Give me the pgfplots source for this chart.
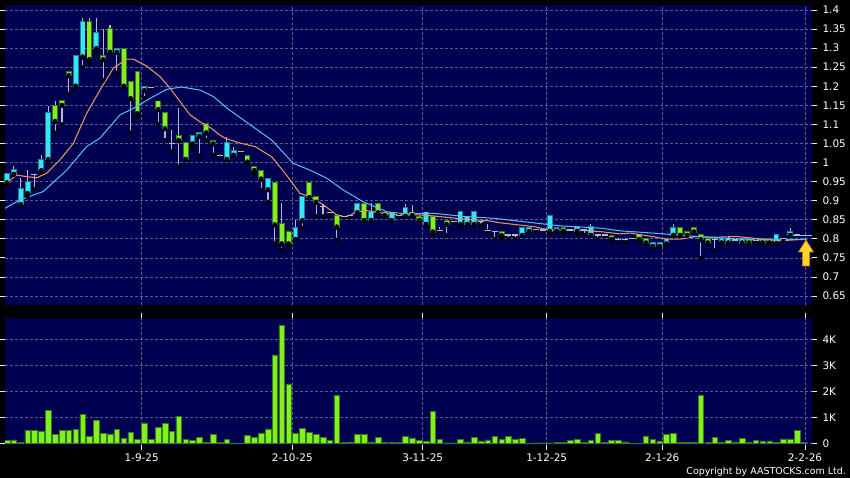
\documentclass[border=0pt]{standalone}
\usepackage{pgfplots}
\pgfplotsset{compat=1.18}
\usepackage{pgfplotstable}
\usepackage{fontspec}
\setmainfont{DejaVu Sans}
\definecolor{navy}{RGB}{0,0,80}
\definecolor{gridc}{RGB}{85,95,145}
\definecolor{upc}{RGB}{50,232,245}
\definecolor{upb}{RGB}{35,125,150}
\definecolor{dnc}{RGB}{128,240,30}
\definecolor{dnb}{RGB}{55,120,25}
\definecolor{wick}{RGB}{185,185,195}
\definecolor{maS}{RGB}{235,150,95}
\definecolor{maL}{RGB}{85,185,245}

\pgfplotstableread{
i o h l c
0 0.948 0.972 0.940 0.969
1 0.970 0.992 0.970 0.980
2 0.891 0.959 0.889 0.930
3 0.920 0.980 0.911 0.948
5 0.980 1.020 0.975 1.007
6 1.009 1.149 1.000 1.129
10 1.201 1.278 1.201 1.278
11 1.278 1.378 1.250 1.369
13 1.300 1.378 1.288 1.339
16 1.290 1.298 1.235 1.298
20 1.190 1.199 1.169 1.199
27 1.050 1.070 1.038 1.070
28 1.070 1.078 1.018 1.078
32 1.009 1.066 1.009 1.050
33 1.020 1.042 1.020 1.030
38 0.930 0.958 0.897 0.958
42 0.799 0.849 0.799 0.829
43 0.849 0.909 0.829 0.909
51 0.869 0.895 0.869 0.891
53 0.849 0.895 0.849 0.869
56 0.849 0.869 0.849 0.869
58 0.860 0.890 0.860 0.880
61 0.839 0.869 0.839 0.869
66 0.839 0.870 0.835 0.870
67 0.839 0.858 0.839 0.858
68 0.839 0.870 0.835 0.870
75 0.810 0.829 0.810 0.829
76 0.820 0.829 0.820 0.829
79 0.821 0.860 0.810 0.860
80 0.821 0.829 0.821 0.829
83 0.821 0.832 0.810 0.832
85 0.810 0.838 0.810 0.832
94 0.781 0.788 0.781 0.788
95 0.781 0.788 0.781 0.788
96 0.788 0.799 0.785 0.799
97 0.810 0.840 0.810 0.829
104 0.790 0.799 0.790 0.799
105 0.790 0.808 0.790 0.799
107 0.790 0.799 0.790 0.799
112 0.788 0.810 0.788 0.810
114 0.810 0.829 0.810 0.819
}\up

\pgfplotstableread{
i o h l c
7 1.149 1.162 1.078 1.109
8 1.161 1.161 1.100 1.151
9 1.238 1.238 1.180 1.229
12 1.369 1.378 1.260 1.271
14 1.278 1.350 1.216 1.271
15 1.349 1.361 1.290 1.290
17 1.298 1.298 1.201 1.201
18 1.210 1.210 1.078 1.169
19 1.238 1.238 1.119 1.129
22 1.160 1.160 1.101 1.140
23 1.129 1.129 1.059 1.090
25 1.070 1.142 0.989 1.059
26 1.050 1.050 1.009 1.009
29 1.100 1.100 1.059 1.079
30 1.057 1.057 1.020 1.050
35 1.017 1.017 1.002 1.002
36 0.989 0.989 0.970 0.980
37 0.979 0.979 0.928 0.958
39 0.947 0.947 0.788 0.838
40 0.838 0.893 0.771 0.788
41 0.819 0.819 0.775 0.788
44 0.947 0.947 0.909 0.909
45 0.909 0.909 0.859 0.897
48 0.860 0.860 0.797 0.832
52 0.891 0.891 0.849 0.849
54 0.891 0.895 0.869 0.869
55 0.869 0.869 0.862 0.862
59 0.869 0.889 0.862 0.862
60 0.858 0.858 0.849 0.849
62 0.858 0.858 0.810 0.819
64 0.848 0.848 0.810 0.839
72 0.819 0.819 0.799 0.810
81 0.829 0.829 0.810 0.821
88 0.807 0.807 0.799 0.799
92 0.810 0.810 0.799 0.799
93 0.799 0.799 0.790 0.790
98 0.829 0.829 0.810 0.810
99 0.819 0.819 0.810 0.810
100 0.829 0.829 0.819 0.819
101 0.810 0.810 0.749 0.799
102 0.799 0.799 0.790 0.790
108 0.799 0.799 0.790 0.790
110 0.799 0.799 0.790 0.790
111 0.799 0.799 0.790 0.790
}\dn

\pgfplotstableread{
i v h l
4 0.969 0.969 0.930
21 1.197 1.199 1.195
24 1.050 1.085 1.029
31 1.019 1.022 1.016
34 1.030 1.033 1.028
46 0.885 0.891 0.859
47 0.870 0.872 0.868
49 0.858 0.860 0.856
50 0.862 0.866 0.858
57 0.862 0.864 0.860
63 0.821 0.830 0.819
65 0.845 0.847 0.843
69 0.845 0.847 0.835
70 0.821 0.839 0.819
71 0.819 0.821 0.799
73 0.810 0.812 0.799
74 0.810 0.812 0.799
77 0.825 0.827 0.823
78 0.823 0.825 0.821
82 0.823 0.825 0.821
84 0.823 0.825 0.810
86 0.810 0.812 0.799
87 0.810 0.812 0.808
89 0.799 0.801 0.790
90 0.799 0.801 0.790
91 0.800 0.802 0.798
103 0.799 0.801 0.769
106 0.797 0.799 0.795
109 0.795 0.797 0.793
113 0.800 0.802 0.798
115 0.810 0.812 0.808
}\dj

\pgfplotstableread{
i v
0 0.10
1 0.13
2 0.04
3 0.51
4 0.51
5 0.47
6 1.28
7 0.33
8 0.49
9 0.51
10 0.54
11 1.12
12 0.26
13 0.90
14 0.38
15 0.36
16 0.54
17 0.19
18 0.41
19 0.15
20 0.79
21 0.15
22 0.62
23 0.77
24 0.47
25 1.05
26 0.15
27 0.10
28 0.24
29 0.04
30 0.33
31 0.05
32 0.14
33 0.01
34 0.01
35 0.31
36 0.22
37 0.40
38 0.56
39 3.40
40 4.54
41 2.29
42 0.37
43 0.58
44 0.42
45 0.35
46 0.23
47 0.10
48 1.83
49 0.04
50 0.06
51 0.33
52 0.33
53 0.06
54 0.24
55 0.05
56 0.04
57 0.04
58 0.27
59 0.21
60 0.12
61 0.08
62 1.22
63 0.15
64 0.02
65 0.02
66 0.15
67 0.06
68 0.23
69 0.09
70 0.13
71 0.27
72 0.15
73 0.26
74 0.15
75 0.19
76 0.01
77 0.02
78 0.02
79 0.02
80 0.03
81 0.04
82 0.10
83 0.15
84 0.04
85 0.10
86 0.38
87 0.04
88 0.12
89 0.12
90 0.06
91 0.01
92 0.01
93 0.29
94 0.15
95 0.09
96 0.35
97 0.38
98 0.04
99 0.04
100 0.05
101 1.86
102 0.05
103 0.22
104 0.05
105 0.12
106 0.06
107 0.18
108 0.03
109 0.10
110 0.09
111 0.09
112 0.04
113 0.17
114 0.17
115 0.49
116 0.03
}\vol

\pgfplotsset{
  common/.style={
    scale only axis, anchor=south west, width=807bp,
    xmin=-0.29, xmax=117.18,
    axis background/.style={fill=navy},
    axis line style={draw=none},
    xtick={19.61,41.53,60.51,78.56,95.39,116.16},
    xmajorgrids, ymajorgrids,
    grid style={gridc, dash pattern=on 2.5bp off 2.5bp, line width=0.7bp},
    yticklabel pos=right,
    tick align=outside, major tick length=5bp,
    tick style={white!85!gray, line width=0.8bp},
    ticklabel style={text=white, font=\fontsize{10.5}{12}\selectfont},
    yticklabel style={anchor=west, xshift=2bp},
  },
  wicks/.style={only marks, mark=none, forget plot,
    error bars/.cd, y dir=plus, y explicit, error mark=none,
    error bar style={draw=wick, line width=1.1bp, solid}},
  body/.style 2 args={only marks, mark=none, forget plot,
    error bars/.cd, y dir=plus, y explicit, error mark=none,
    error bar style={draw=#1, line width=#2, solid, line cap=butt}},
}

\begin{document}
\begin{tikzpicture}
\useasboundingbox (0bp,0bp) rectangle (850bp,478bp);
\fill[black] (0bp,0bp) rectangle (850bp,478bp);

\begin{axis}[common, at={(5bp,173bp)}, height=300bp,
  ymin=0.6265, ymax=1.413,
  ytick={0.65,0.7,0.75,0.8,0.85,0.9,0.95,1,1.05,1.1,1.15,1.2,1.25,1.3,1.35,1.4},
  yticklabels={0.65,0.7,0.75,0.8,0.85,0.9,0.95,1,1.05,1.1,1.15,1.2,1.25,1.3,1.35,1.4},
  xticklabels={}, xtick style={draw=none}, clip=false]
% wicks
\addplot[wicks] table[x=i, y=l, y error expr=\thisrow{h}-\thisrow{l}] {\up};
\addplot[wicks] table[x=i, y=l, y error expr=\thisrow{h}-\thisrow{l}] {\dn};
\addplot[wicks] table[x=i, y=l, y error expr=\thisrow{h}-\thisrow{l}] {\dj};
% up bodies
\addplot[body={upb}{5.8bp}] table[x=i, y expr=\thisrow{o}-0.0026, y error expr=\thisrow{c}-\thisrow{o}+0.0052] {\up};
\addplot[body={upc}{3.9bp}] table[x=i, y=o, y error expr=\thisrow{c}-\thisrow{o}] {\up};
% down bodies
\addplot[body={dnb}{5.8bp}] table[x=i, y expr=\thisrow{c}-0.0026, y error expr=\thisrow{o}-\thisrow{c}+0.0052] {\dn};
\addplot[body={dnc}{3.9bp}] table[x=i, y=c, y error expr=\thisrow{o}-\thisrow{c}] {\dn};
% doji
\addplot[only marks, mark=-, mark size=3bp, mark options={draw=wick, line width=1.1bp}] table[x=i, y=v] {\dj};
% moving averages
\addplot[maS, line width=1.05bp] coordinates {
(-0.29,0.944)(1.41,0.967)(2.87,0.963)(4.32,0.960)(5.78,0.972)(7.71,1.007)(9.65,1.050)(11.6,1.129)(13.54,1.190)(15.47,1.247)(17.42,1.271)(18.38,1.271)(20.33,1.253)(22.27,1.225)(23.73,1.195)(25.18,1.160)(26.64,1.125)(28.09,1.107)(29.55,1.092)(31.0,1.072)(31.73,1.064)(33.67,1.052)(36.1,1.042)(38.53,1.015)(40.47,0.972)(41.92,0.937)(42.65,0.919)(44.1,0.911)(46.04,0.889)(47.99,0.863)(49.45,0.858)(50.9,0.871)(52.36,0.874)(54.77,0.867)(57.2,0.863)(59.64,0.863)(62.05,0.860)(66.91,0.851)(69.83,0.848)(71.76,0.842)(76.61,0.832)(79.04,0.823)(82.93,0.823)(86.32,0.819)(89.23,0.813)(90.68,0.815)(93.6,0.807)(96.03,0.799)(97.96,0.799)(100.39,0.806)(102.81,0.804)(106.21,0.806)(110.09,0.799)(112.52,0.795)(116.4,0.799)};
\addplot[maL, line width=1.05bp] coordinates {
(-0.29,0.880)(1.89,0.902)(5.28,0.924)(8.69,0.980)(11.6,1.042)(13.54,1.064)(16.45,1.125)(18.38,1.142)(20.82,1.168)(23.25,1.192)(25.43,1.198)(28.09,1.190)(30.03,1.173)(32.21,1.140)(36.1,1.090)(38.53,1.059)(41.67,0.998)(44.1,0.980)(46.54,0.959)(48.95,0.928)(51.86,0.897)(55.27,0.871)(58.18,0.865)(62.05,0.867)(66.91,0.858)(70.79,0.854)(76.61,0.842)(80.5,0.834)(86.32,0.828)(89.23,0.821)(95.53,0.813)(100.39,0.806)(105.24,0.801)(110.09,0.797)(116.4,0.799)};
\draw[wick, line width=0.9bp] (axis cs:114.4,0.81) -- (axis cs:117.18,0.81);
\end{axis}

\begin{axis}[common, at={(5bp,33bp)}, height=127bp,
  ymin=-0.065, ymax=4.82,
  ytick={0,1,2,3,4}, yticklabels={0,1K,2K,3K,4K},
  xticklabels={1-9-25,2-10-25,3-11-25,1-12-25,2-1-26,2-2-26}]
\addplot[ybar, bar width=5.6bp, fill=dnc, draw=dnb, line width=0.5bp] table[x=i, y=v] {\vol};
\end{axis}

% current-price arrow
\fill[draw={rgb,255:red,190;green,130;blue,0}, line width=0.6bp, fill={rgb,255:red,255;green,212;blue,40}]
  (806bp,238bp) -- (813.5bp,226bp) -- (809.5bp,226bp) -- (809.5bp,212bp) -- (802.5bp,212bp) -- (802.5bp,226bp) -- (798.5bp,226bp) -- cycle;

\node[anchor=base east, text=white, font=\fontsize{9.5}{11}\selectfont, inner sep=0pt] at (846bp,3.5bp) {Copyright by AASTOCKS.com Ltd.};
\end{tikzpicture}
\end{document}
